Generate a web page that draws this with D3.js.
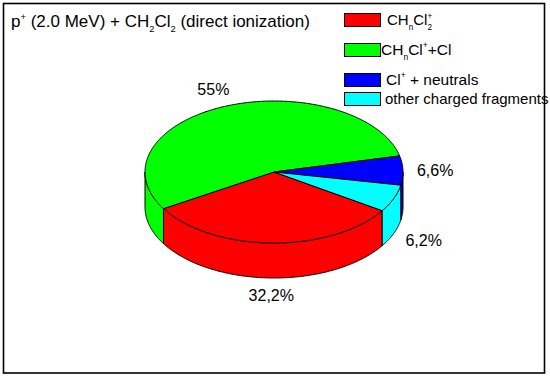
<!DOCTYPE html>
<html>
<head>
<meta charset="utf-8">
<script src="https://cdn.jsdelivr.net/npm/d3@7"></script>
<style>
  body { margin: 0; background: #fff; }
  svg text { font-family: "Liberation Sans", Arial, sans-serif; fill: #000; }
</style>
</head>
<body>
<div id="svg"></div>
<script>
// datos del grafico
const categorias = ["CH_{n}Cl_{2}^{+}", "CH_{n}Cl^{+}+Cl", "Cl^{+} + neutrals", "other charged fragments"];
const valores = [32.2, 55, 6.6, 6.2];
const etiquetas = ["32,2%", "55%", "6,6%", "6,2%"];
const colores = ["#ff0000", "#00ff00", "#0000ff", "#00ffff"];
const titulo = "p^{+} (2.0 MeV) + CH_{2}Cl_{2} (direct ionization)";

const width = 550;
const height = 379;

const svg = d3.select("#svg")
    .append("svg")
    .attr("width", width)
    .attr("height", height);

// marco
svg.append("rect")
    .attr("x", 3.5).attr("y", 3.5)
    .attr("width", 541).attr("height", 369.5)
    .attr("fill", "white")
    .attr("stroke", "black")
    .attr("stroke-width", 1.6);

// texto con subindices / superindices  (_{..} y ^{..})
const textoRico = (sel, s, size) => {
    const partes = [];
    const re = /([_^])\{([^}]*)\}|([^_^]+)/g;
    let m;
    while ((m = re.exec(s)) !== null) {
        if (m[1]) partes.push({ t: m[2], tipo: m[1] });
        else partes.push({ t: m[3], tipo: "" });
    }
    let prev = 0;
    let anterior = "";
    partes.forEach((p) => {
        const shift = p.tipo === "_" ? size * 0.32 : p.tipo === "^" ? -size * 0.42 : 0;
        const ts = sel.append("tspan")
            .attr("dy", shift - prev)
            .attr("font-size", p.tipo ? size * 0.55 : size)
            .text(p.t);
        // superindice apilado sobre subindice
        if (p.tipo === "^" && anterior === "_") ts.attr("dx", -size * 0.3);
        prev = shift;
        anterior = p.tipo;
    });
};

// titulo
const tit = svg.append("text").attr("x", 11).attr("y", 27).attr("font-size", 17);
textoRico(tit, titulo, 17);

// leyenda
const leyY = [13, 43, 73, 92];
const leyTxX = [387, 381, 386, 385];
const leySize = [15, 15.5, 15.5, 15];
const leyenda = svg.append("g");
categorias.forEach((c, i) => {
    leyenda.append("rect")
        .attr("x", 344.5).attr("y", leyY[i] + 0.5)
        .attr("width", 36).attr("height", 13)
        .attr("fill", colores[i])
        .attr("stroke", "black");
    const t = leyenda.append("text")
        .attr("x", leyTxX[i])
        .attr("y", leyY[i] + 12)
        .attr("font-size", leySize[i]);
    textoRico(t, c, leySize[i]);
});

// pastel 3D
const cx = 274, cy = 172, rx = 129, ry = 71, prof = 35;
const inicio = 123 * Math.PI / 180;
const pie = d3.pie().sort(null).startAngle(inicio).endAngle(inicio + 2 * Math.PI);
const arcos = pie(valores);

const px = (a, k = 1) => cx + rx * k * Math.sin(a);
const py = (a, k = 1) => cy - ry * k * Math.cos(a);

const muestreo = (a0, a1) => {
    const n = Math.max(2, Math.ceil(Math.abs(a1 - a0) / 0.01));
    return d3.range(n + 1).map((j) => a0 + (a1 - a0) * j / n);
};
const linea = d3.line();

// paredes laterales (solo la mitad delantera)
const lados = [];
arcos.forEach((d, i) => {
    [0, 2 * Math.PI].forEach((off) => {
        const a0 = Math.max(d.startAngle, Math.PI / 2 + off);
        const a1 = Math.min(d.endAngle, 3 * Math.PI / 2 + off);
        if (a1 > a0) lados.push({ a0, a1, i });
    });
});
svg.append("g")
    .attr("stroke", "black")
    .attr("stroke-width", 1)
    .selectAll("path")
    .data(lados)
    .join("path")
    .attr("fill", (d) => colores[d.i])
    .attr("d", (d) => {
        const arriba = muestreo(d.a0, d.a1).map((a) => [px(a), py(a)]);
        const abajo = muestreo(d.a1, d.a0).map((a) => [px(a), py(a) + prof]);
        return linea(arriba.concat(abajo)) + "Z";
    });

// caras superiores
svg.append("g")
    .attr("stroke", "black")
    .attr("stroke-width", 1)
    .selectAll("path")
    .data(arcos)
    .join("path")
    .attr("fill", (d, i) => colores[i])
    .attr("d", (d) => {
        const pts = [[cx, cy]].concat(muestreo(d.startAngle, d.endAngle).map((a) => [px(a), py(a)]));
        return linea(pts) + "Z";
    });

// etiquetas de porcentaje
svg.append("g")
    .selectAll("text")
    .data(arcos)
    .join("text")
    .attr("font-size", 16)
    .attr("text-anchor", "middle")
    .attr("dominant-baseline", "central")
    .attr("x", (d) => px((d.startAngle + d.endAngle) / 2, 1.25))
    .attr("y", (d) => {
        const a = (d.startAngle + d.endAngle) / 2;
        return py(a, 1.25) + (Math.cos(a) < 0 ? prof : 0);
    })
    .text((d, i) => etiquetas[i]);
</script>
</body>
</html>
